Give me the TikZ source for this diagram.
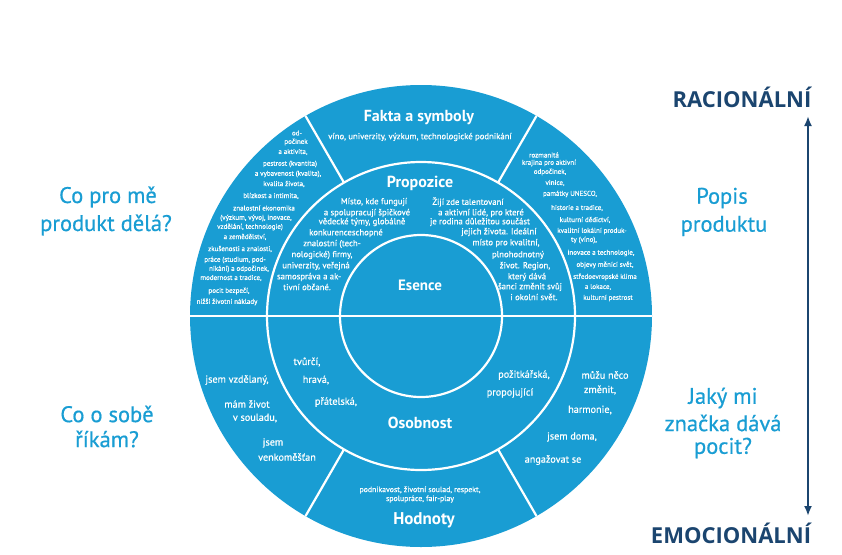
\documentclass[tikz,border=0pt]{standalone}
\usepackage{fontspec}
\setmainfont{PT Sans}
\newfontfamily\medfont[FakeBold=0.6]{PT Sans}
\newfontfamily\axisfont{Open Sans}
\usetikzlibrary{arrows.meta,calc}
\definecolor{cyanc}{HTML}{199DD3}
\definecolor{navyc}{HTML}{1B456F}
\tikzset{
  sep/.style={draw=white,line width=2.2pt},
  head/.style={text=white,font=\bfseries\fontsize{16}{16}\selectfont,inner sep=0pt},
  smallt/.style={text=white,font=\medfont\fontsize{7}{7}\selectfont,inner sep=0pt},
  midt/.style={text=white,font=\medfont\fontsize{8.7}{8.7}\selectfont,inner sep=0pt},
  ringt/.style={text=white,font=\medfont\fontsize{10.2}{10.2}\selectfont,inner sep=0pt},
  quest/.style={text=cyanc,font=\medfont\fontsize{22.5}{22.5}\selectfont,inner sep=0pt},
  axis/.style={text=navyc,font=\axisfont\bfseries\fontsize{22}{22}\selectfont,inner sep=0pt},
}
\begin{document}
\begin{tikzpicture}[x=1pt,y=-1pt]
\useasboundingbox (0,0) rectangle (842,554);
\coordinate (C) at (421,316);
% disc
\fill[cyanc] (C) circle[radius=231pt];
\draw[sep] (C) circle[radius=154pt];
\draw[sep] (C) circle[radius=81pt];
\draw[sep] ($(C)+(180:231pt)$) -- ($(C)+(0:231pt)$);
\draw[sep] ($(C)+(60:154pt)$) -- ($(C)+(60:231pt)$);
\draw[sep] ($(C)+(120:154pt)$) -- ($(C)+(120:231pt)$);
\draw[sep] ($(C)+(240:154pt)$) -- ($(C)+(240:231pt)$);
\draw[sep] ($(C)+(300:154pt)$) -- ($(C)+(300:231pt)$);

% headings
\node[head] (fakta) at (419,118) {Fakta a symboly};
\node[midt] (faktat) at (420,137) {víno, univerzity, výzkum, technologické podnikání};
\node[head] (prop) at (420,183) {Propozice};
\node[head,font=\bfseries\fontsize{15}{15}\selectfont] (esence) at (420,285) {Esence};
\node[head] (osob) at (420,423) {Osobnost};
\node[head,font=\bfseries\fontsize{17}{17}\selectfont] (hodn) at (424,520) {Hodnoty};
\node[midt,font=\medfont\fontsize{7.8}{7.8}\selectfont] (hodn1) at (420,490) {podnikavost, životní soulad, respekt,};
\node[midt,font=\medfont\fontsize{7.8}{7.8}\selectfont] (hodn2) at (420,499) {spolupráce, fair-play};

% propozice left
\node[midt] (pl1) at (374,202) {Místo, kde fungují};
\node[midt] (pl2) at (367,213) {a spolupracují špičkové};
\node[midt] (pl3) at (362,222) {vědecké týmy, globálně};
\node[midt] (pl4) at (346,233) {konkurenceschopné};
\node[midt] (pl5) at (332,244) {znalostní (tech-};
\node[midt] (pl6) at (322,255) {nologické) firmy,};
\node[midt] (pl7) at (316,266) {univerzity, veřejná};
\node[midt] (pl8) at (309,277) {samospráva a ak-};
\node[midt] (pl9) at (307,287) {tivní občané.};

% propozice right
\node[midt] (pr1) at (468,202) {Žijí zde talentovaní};
\node[midt] (pr2) at (481,213) {a aktivní lidé, pro které};
\node[midt] (pr3) at (480,222) {je rodina důležitou součást};
\node[midt] (pr4) at (499,232) {jejich života. Ideální};
\node[midt] (pr5) at (506,243) {místo pro kvalitní,};
\node[midt] (pr6) at (518,255) {plnohodnotný};
\node[midt] (pr7) at (525,266) {život. Region,};
\node[midt] (pr8) at (527,277) {který dává};
\node[midt] (pr9) at (530,287) {šanci změnit svůj};
\node[midt] (pr10) at (534,297) {i okolní svět.};

% outer top-left
\node[smallt] (ol1) at (297,133) {od-};
\node[smallt] (ol2) at (296,142) {počinek};
\node[smallt] (ol3) at (293,152) {a aktivita,};
\node[smallt] (ol4) at (290,164) {pestrost (kvantita)};
\node[smallt] (ol5) at (288,174) {a vybavenost (kvalita),};
\node[smallt] (ol6) at (284,184) {kvalita života,};
\node[smallt] (ol7) at (271,196) {blízkost a intimita,};
\node[smallt] (ol8) at (264,208) {znalostní ekonomika};
\node[smallt] (ol9) at (256,218) {(výzkum, vývoj, inovace,};
\node[smallt] (ol10) at (250,227) {vzdělání, technologie)};
\node[smallt] (ol11) at (245,237) {a zemědělství,};
\node[smallt] (ol12) at (240,249) {zkušenosti a znalosti,};
\node[smallt] (ol13) at (235,260) {práce (studium, pod-};
\node[smallt] (ol14) at (239,269) {nikání) a odpočinek,};
\node[smallt] (ol15) at (231,278) {modernost a tradice,};
\node[smallt] (ol16) at (229,291) {pocit bezpečí,};
\node[smallt] (ol17) at (227,302) {nižší životní náklady};

% outer top-right
\node[smallt] (or1) at (544,155) {rozmanitá};
\node[smallt] (or2) at (549,163) {krajina pro aktivní};
\node[smallt] (or3) at (550,172) {odpočinek,};
\node[smallt] (or4) at (555,183) {vinice,};
\node[smallt] (or5) at (570,194) {památky UNESCO,};
\node[smallt] (or6) at (577,208) {historie a tradice,};
\node[smallt] (or7) at (585,220) {kulturní dědictví,};
\node[smallt] (or8) at (592,231) {kvalitní lokální produk-};
\node[smallt] (or9) at (584,240) {ty (víno),};
\node[smallt] (or10) at (601,253) {inovace a technologie,};
\node[smallt] (or11) at (605,265) {objevy měnící svět,};
\node[smallt] (or12) at (605,277) {středoevropské klima};
\node[smallt] (or13) at (598,287) {a lokace,};
\node[smallt] (or14) at (608,298) {kulturní pestrost};

% osobnost ring
\node[ringt] (os1) at (307,362) {tvůrčí,};
\node[ringt] (os2) at (316,380) {hravá,};
\node[ringt] (os3) at (336,402) {přátelská,};
\node[ringt] (os4) at (524,375) {požitkářská,};
\node[ringt] (os5) at (510,393) {propojující};

% outer bottom-left
\node[ringt] (bl1) at (237,380) {jsem vzdělaný,};
\node[ringt] (bl2) at (247,404) {mám život};
\node[ringt] (bl3) at (255,418) {v souladu,};
\node[ringt] (bl4) at (273,443) {jsem};
\node[ringt] (bl5) at (287,457) {venkoměšťan};

% outer bottom-right
\node[ringt] (br1) at (605,375) {můžu něco};
\node[ringt] (br2) at (600,390) {změnit,};
\node[ringt] (br3) at (590,410) {harmonie,};
\node[ringt] (br4) at (572,437) {jsem doma,};
\node[ringt] (br5) at (553,460) {angažovat se};

% questions
\node[quest] (q1a) at (108,197) {Co pro mě};
\node[quest] (q1b) at (106,225) {produkt dělá?};
\node[quest] (q2a) at (722,198) {Popis};
\node[quest] (q2b) at (724,226) {produktu};
\node[quest] (q3a) at (107,414) {Co o sobě};
\node[quest] (q3b) at (107,439) {říkám?};
\node[quest] (q4a) at (723,398) {Jaký mi};
\node[quest] (q4b) at (723,423) {značka dává};
\node[quest] (q4c) at (723,448) {pocit?};

% axis
\node[axis] (rac) at (742,97) {RACIONÁLNÍ};
\node[axis] (emo) at (731,533) {EMOCIONÁLNÍ};
\coordinate (atop) at (808,116);
\coordinate (abot) at (808,516);
\draw[navyc,line width=2pt,{Latex[length=10pt,width=8pt]}-{Latex[length=10pt,width=8pt]}] (atop) -- (abot);
\end{tikzpicture}
\end{document}
